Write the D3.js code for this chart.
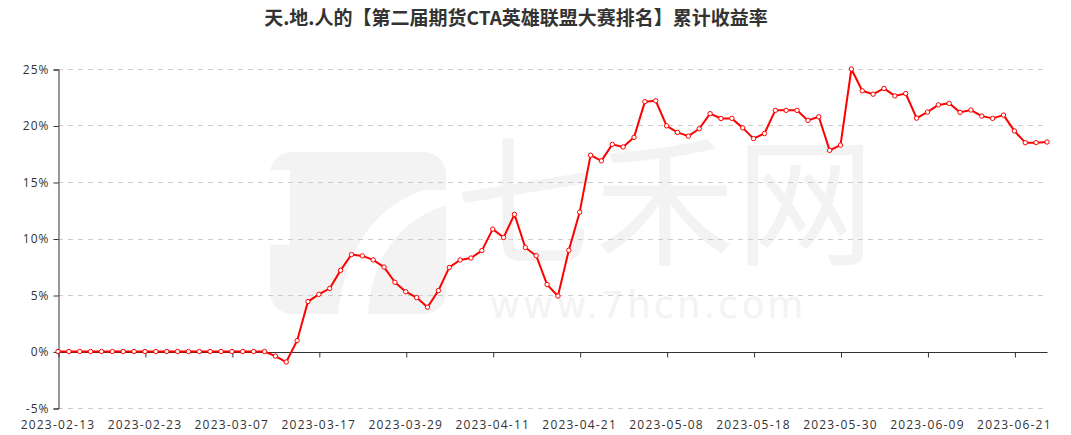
<!DOCTYPE html>
<html><head><meta charset="utf-8">
<script src="https://cdn.jsdelivr.net/npm/d3@7"></script>
<style>
html,body{margin:0;padding:0;background:#fff;}
svg{display:block;}
</style></head>
<body>
<svg id="chart" width="1071" height="435"></svg>
<script>
const title = "天.地.人的【第二届期货CTA英雄联盟大赛排名】累计收益率";
const dates = [
"2023-02-13","2023-02-14","2023-02-15","2023-02-16","2023-02-17","2023-02-20","2023-02-21","2023-02-22","2023-02-23","2023-02-24","2023-02-27","2023-02-28",
"2023-03-01","2023-03-02","2023-03-03","2023-03-06","2023-03-07","2023-03-08","2023-03-09","2023-03-10","2023-03-13","2023-03-14","2023-03-15","2023-03-16","2023-03-17","2023-03-20","2023-03-21","2023-03-22","2023-03-23","2023-03-24","2023-03-27","2023-03-28","2023-03-29","2023-03-30","2023-03-31",
"2023-04-03","2023-04-04","2023-04-06","2023-04-07","2023-04-10","2023-04-11","2023-04-12","2023-04-13","2023-04-14","2023-04-17","2023-04-18","2023-04-19","2023-04-20","2023-04-21","2023-04-24","2023-04-25","2023-04-26","2023-04-27","2023-04-28",
"2023-05-04","2023-05-05","2023-05-08","2023-05-09","2023-05-10","2023-05-11","2023-05-12","2023-05-15","2023-05-16","2023-05-17","2023-05-18","2023-05-19","2023-05-22","2023-05-23","2023-05-24","2023-05-25","2023-05-26","2023-05-29","2023-05-30","2023-05-31",
"2023-06-01","2023-06-02","2023-06-05","2023-06-06","2023-06-07","2023-06-08","2023-06-09","2023-06-12","2023-06-13","2023-06-14","2023-06-15","2023-06-16","2023-06-19","2023-06-20","2023-06-21","2023-06-26","2023-06-27","2023-06-28"
];
const returns = [
0,0,0,0,0,0,0,0,0,0,0,0,0,0,0,0,0,0,0,0,
-0.41,-0.93,0.96,4.42,5.06,5.58,7.18,8.58,8.46,8.11,7.47,6.13,5.29,4.77,3.92,
5.39,7.44,8.10,8.27,8.93,10.83,10.09,12.14,9.20,8.48,5.92,4.91,8.96,12.33,17.37,16.87,18.33,18.10,18.95,
22.11,22.19,19.97,19.39,19.06,19.71,21.05,20.62,20.63,19.79,18.84,19.29,21.34,21.34,21.34,20.45,20.77,17.80,18.27,25.0,
23.07,22.77,23.28,22.62,22.83,20.65,21.19,21.82,21.96,21.16,21.37,20.83,20.63,20.92,19.52,18.48,18.48,18.54
];
const yTicks = [-5,0,5,10,15,20,25];
const labelInterval = 8;

(function () {
const svg = d3.select("#chart");
const mL = 58, mR = 1047, mT = 69, mB = 408;

const x = d3.scalePoint().domain(dates).range([mL, mR]);
const y = d3.scaleLinear().domain([-5, 25]).range([mB, mT]);

// watermark
const wm = svg.append("g").attr("fill", "#f3f3f3");
wm.append("rect").attr("x", 270).attr("y", 152).attr("width", 176).attr("height", 162).attr("rx", 22);
wm.append("path").attr("fill", "#fff")
  .attr("d", "M270,170 L290,170 L290,245 L270,245 Z M425,190 C375,205 345,250 338,314 L368,314 C372,262 395,222 446,205 L446,190 Z");
const wt = wm.append("text").attr("text-anchor", "middle");
wt.append("tspan").attr("x", 665).attr("y", 254)
  .attr("font-family", "Noto Sans CJK SC").attr("font-size", 140).text("七禾网");
wt.append("tspan").attr("x", 648).attr("y", 318)
  .attr("font-family", "Verdana, DejaVu Sans").attr("font-size", 37).attr("letter-spacing", 3).text("www.7hcn.com");

// grid
svg.append("g").selectAll("line").data(yTicks.filter(d => d !== 0)).join("line")
  .attr("x1", mL).attr("x2", mR)
  .attr("y1", d => Math.round(y(d)) + 0.5).attr("y2", d => Math.round(y(d)) + 0.5)
  .attr("stroke", "#ccc").attr("stroke-dasharray", "5,5").attr("stroke-width", 1);

// y axis
const yAxis = d3.axisLeft(y).tickValues(yTicks).tickFormat(d => d + "%").tickSize(5).tickPadding(4);
const gy = svg.append("g").attr("transform", `translate(${mL + 0.5},0.5)`).call(yAxis);
gy.select(".domain").attr("stroke", "#333");
gy.selectAll(".tick line").attr("stroke", "#333");
gy.selectAll(".tick text").attr("fill", "#333").attr("font-size", 12)
  .attr("font-family", "Open Sans, sans-serif").attr("letter-spacing", 1);

// x axis on zero
const tickDates = dates.filter((d, i) => i % labelInterval === 0);
const xAxis = d3.axisBottom(x).tickValues(tickDates).tickSize(5).tickFormat("");
const gx = svg.append("g").attr("transform", `translate(0.5,${Math.round(y(0)) + 0.5})`).call(xAxis);
gx.select(".domain").attr("stroke", "#333").attr("d", `M${mL},0H${mR}`);
gx.selectAll(".tick line").attr("stroke", "#333");

// x labels at bottom
svg.append("g").selectAll("text").data(tickDates).join("text")
  .attr("x", d => x(d)).attr("y", 429).attr("text-anchor", "middle")
  .attr("fill", "#333").attr("font-size", 12).attr("letter-spacing", 1.2)
  .attr("font-family", "Open Sans, sans-serif").text(d => d);

// line
const line = d3.line().x((d, i) => x(dates[i])).y(d => y(d));
svg.append("path").datum(returns).attr("d", line).attr("fill", "none")
  .attr("stroke", "#ff0000").attr("stroke-width", 2).attr("stroke-linejoin", "round");
svg.append("g").selectAll("circle").data(returns).join("circle")
  .attr("cx", (d, i) => x(dates[i])).attr("cy", d => y(d)).attr("r", 2.2)
  .attr("fill", "#fff").attr("stroke", "#ff0000").attr("stroke-width", 1);

// title
svg.append("text").attr("x", 516).attr("y", 25).attr("text-anchor", "middle")
  .attr("font-family", "Noto Sans CJK SC").attr("font-weight", "bold").attr("font-size", 19)
  .attr("fill", "#333").text(title);
})();
</script>
</body></html>
